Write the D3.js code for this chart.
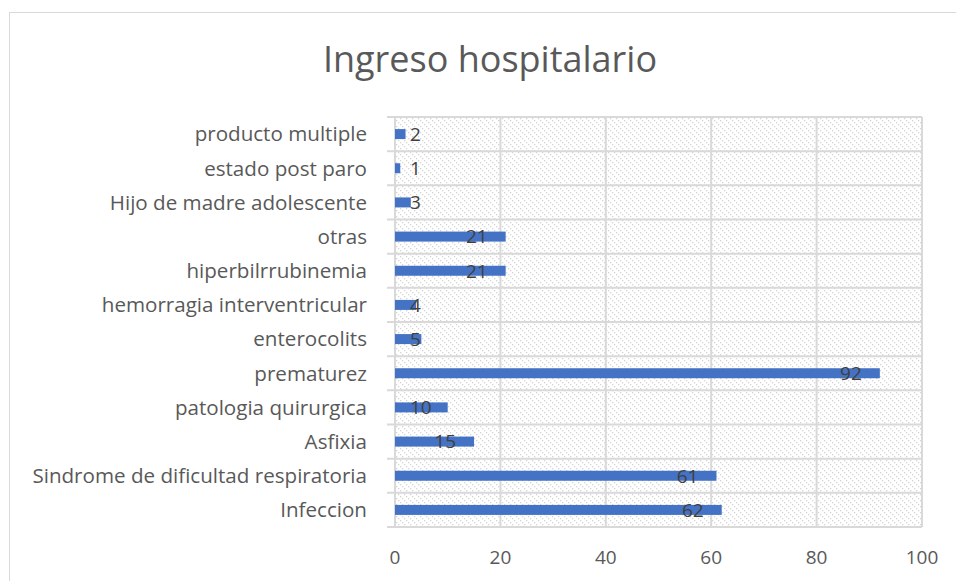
<!DOCTYPE html>
<html>
<head>
<meta charset="utf-8">
<script src="https://cdn.jsdelivr.net/npm/d3@7"></script>
<style>
  body { margin: 0; background: #fff; }
  text { font-family: "Open Sans", sans-serif; fill: #595959; }
</style>
</head>
<body>
<div id="chart"></div>
<script>
// data, listed bottom to top as in the original sheet
const categories = [
    "Infeccion",
    "Sindrome de dificultad respiratoria",
    "Asfixia",
    "patologia quirurgica",
    "prematurez",
    "enterocolits",
    "hemorragia interventricular",
    "hiperbilrrubinemia",
    "otras",
    "Hijo de madre adolescente",
    "estado post paro",
    "producto multiple"
];
const values = [62, 61, 15, 10, 92, 5, 4, 21, 21, 3, 1, 2];
const xTicks = [0, 20, 40, 60, 80, 100];
const title = "Ingreso hospitalario";

const W = 956, H = 581;
const plot = { left: 395, right: 922, top: 117, bottom: 527 };

const svg = d3.select("#chart")
    .append("svg")
    .attr("width", W)
    .attr("height", H);

// dotted diagonal hatch for the plot area
const defs = svg.append("defs");
const pat = defs.append("pattern")
    .attr("id", "hatch")
    .attr("patternUnits", "userSpaceOnUse")
    .attr("width", 6)
    .attr("height", 6);
pat.selectAll("rect")
    .data([0, 2, 4])
    .enter()
    .append("rect")
    .attr("x", d => d)
    .attr("y", d => d)
    .attr("width", 1.3)
    .attr("height", 1.3)
    .attr("fill", "#d4d4d4");

// chart border
svg.append("rect")
    .attr("x", 9.5)
    .attr("y", 12.5)
    .attr("width", W)
    .attr("height", H)
    .attr("fill", "none")
    .attr("stroke", "#d9d9d9");

// title
svg.append("text")
    .attr("x", 490)
    .attr("y", 72)
    .attr("text-anchor", "middle")
    .style("font-size", "36px")
    .text(title);

// scales
const x = d3.scaleLinear()
    .domain([0, 100])
    .range([plot.left, plot.right]);

const y = d3.scaleBand()
    .domain(categories.slice().reverse())
    .range([plot.top, plot.bottom]);

// plot background
svg.append("rect")
    .attr("x", plot.left)
    .attr("y", plot.top)
    .attr("width", plot.right - plot.left)
    .attr("height", plot.bottom - plot.top)
    .attr("fill", "url(#hatch)");

// vertical gridlines
svg.append("g")
    .selectAll("line")
    .data(xTicks)
    .enter()
    .append("line")
    .attr("x1", d => x(d))
    .attr("x2", d => x(d))
    .attr("y1", plot.top)
    .attr("y2", plot.bottom)
    .attr("stroke", "#d9d9d9")
    .attr("stroke-width", 2);

// horizontal lines between categories, with small ticks to the left
const bounds = d3.range(categories.length + 1).map(i => plot.top + i * y.step());
svg.append("g")
    .selectAll("line")
    .data(bounds)
    .enter()
    .append("line")
    .attr("x1", plot.left - 8)
    .attr("x2", plot.right)
    .attr("y1", d => d)
    .attr("y2", d => d)
    .attr("stroke", "#d9d9d9")
    .attr("stroke-width", 2);

// bars
const barH = 10;
svg.append("g")
    .selectAll("rect")
    .data(categories)
    .enter()
    .append("rect")
    .attr("x", x(0))
    .attr("y", d => y(d) + y.bandwidth() / 2 - barH / 2)
    .attr("width", (d, i) => x(values[i]) - x(0))
    .attr("height", barH)
    .attr("fill", "#4472c4");

// value labels
svg.append("g")
    .selectAll("text")
    .data(categories)
    .enter()
    .append("text")
    .attr("y", d => y(d) + y.bandwidth() / 2)
    .attr("dy", "0.36em")
    .style("font-size", "19px")
    .style("fill", "#404040")
    .text((d, i) => values[i])
    .each(function (d, i) {
        const w = this.getComputedTextLength();
        d3.select(this).attr("x", Math.max(x(0) + 15, x(values[i]) - 18 - w));
    });

// category labels
svg.append("g")
    .selectAll("text")
    .data(categories)
    .enter()
    .append("text")
    .attr("x", 367)
    .attr("y", d => y(d) + y.bandwidth() / 2)
    .attr("dy", "0.36em")
    .attr("text-anchor", "end")
    .style("font-size", "20.6px")
    .text(d => d);

// x tick labels
svg.append("g")
    .selectAll("text")
    .data(xTicks)
    .enter()
    .append("text")
    .attr("x", d => x(d))
    .attr("y", 564)
    .attr("text-anchor", "middle")
    .style("font-size", "19px")
    .text(d => d);
</script>
</body>
</html>
